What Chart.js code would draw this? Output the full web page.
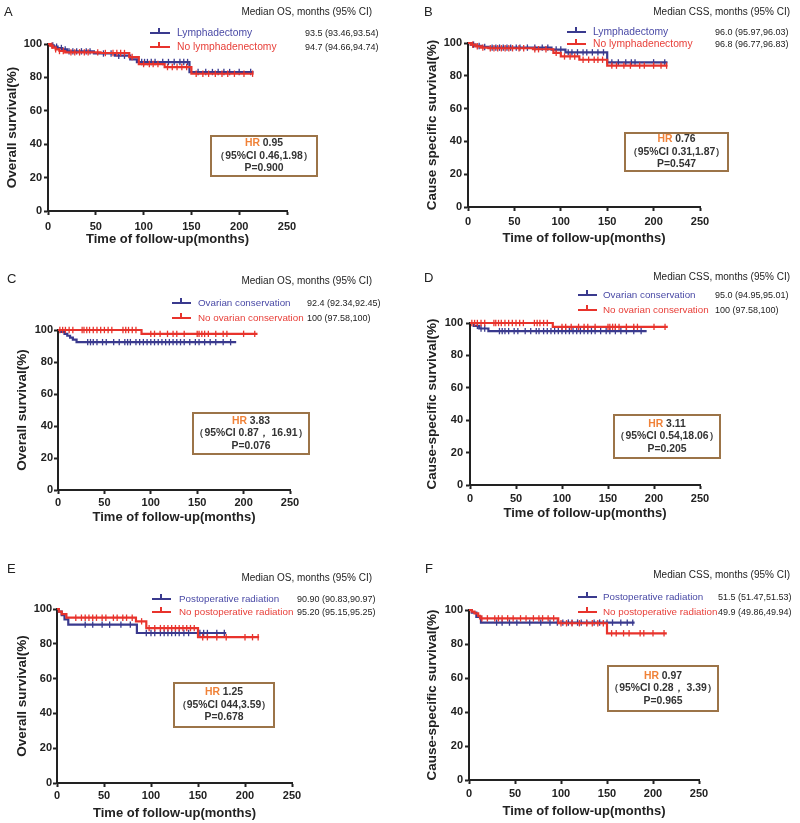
<!DOCTYPE html>
<html><head><meta charset="utf-8">
<script src="https://cdn.jsdelivr.net/npm/chart.js@4.4.1/dist/chart.umd.min.js"></script>
<style>
html,body{margin:0;padding:0;background:#fff;width:800px;height:823px;overflow:hidden;}
body{position:relative;font-family:'Liberation Sans',Arial,sans-serif;color:#222;}
canvas{position:absolute;}
.t{position:absolute;white-space:nowrap;line-height:1;}
.mk{position:absolute;height:2px;}
.mk i{position:absolute;left:8px;top:-4px;width:2px;height:5px;}
.box{position:absolute;border:2px solid #9c7448;box-sizing:border-box;display:flex;flex-direction:column;justify-content:center;align-items:center;font-weight:bold;font-size:10.4px;line-height:12.5px;color:#333;white-space:nowrap;}
.box .hr{color:#f08238;}
</style>
</head><body>
<script>
const BLUE = '#3a3a8e', RED = '#e8332c';
const BLUE_TXT = '#4a4aa6', RED_TXT = '#e8403a';
const xTicks = [0, 50, 100, 150, 200, 250];
const yTicks = [0, 20, 40, 60, 80, 100];

// Panel A – OS, lymphadenectomy
const aBlueTime = [0, 3, 6, 10, 15, 20, 48, 70, 86, 93, 148, 215];
const aBlueSurv = [100, 99.2, 98.4, 97.6, 96.8, 95.6, 94.3, 93.0, 90.8, 89.2, 83.2, 83.2];
const aBlueCens = [5, 9, 14, 18, 22, 26, 30, 35, 40, 44, 58, 66, 74, 80, 98, 101, 104, 108, 112, 120, 126, 132, 138, 142, 146, 157, 165, 172, 178, 184, 190, 200, 212];
const aRedTime = [0, 2, 5, 8, 12, 18, 55, 85, 95, 122, 150, 215];
const aRedSurv = [100, 99, 97.8, 96.8, 95.8, 95.0, 94.6, 92.2, 88.0, 86.2, 82.2, 82.2];
const aRedCens = [4, 8, 12, 16, 24, 28, 33, 38, 42, 52, 60, 68, 72, 76, 80, 88, 100, 106, 110, 115, 125, 130, 135, 140, 145, 155, 162, 168, 175, 182, 188, 195, 205, 214];

// Panel B – CSS, lymphadenectomy
const bBlueTime = [0, 3, 8, 15, 22, 90, 105, 150, 215];
const bBlueSurv = [100, 99, 98.2, 97.6, 97.2, 96.0, 94.3, 88.2, 88.2];
const bBlueCens = [6, 12, 18, 26, 30, 34, 38, 42, 46, 52, 56, 64, 72, 80, 86, 95, 100, 108, 112, 118, 124, 128, 134, 140, 146, 155, 162, 170, 176, 180, 200, 212];
const bRedTime = [0, 3, 8, 14, 22, 70, 92, 100, 120, 150, 215];
const bRedSurv = [100, 99, 98, 97.2, 96.8, 96.2, 94.0, 91.8, 89.8, 86.2, 86.2];
const bRedCens = [5, 10, 16, 24, 28, 32, 36, 40, 44, 48, 55, 60, 72, 76, 84, 95, 104, 110, 115, 124, 130, 136, 140, 145, 155, 160, 168, 175, 185, 190, 200, 208, 214];

// Panel C – OS, ovarian conservation
const cBlueTime = [0, 3, 7, 10, 13, 16, 20, 192];
const cBlueSurv = [100, 98.8, 97.6, 96.4, 95.2, 94.0, 92.4, 92.4];
const cBlueCens = [32, 35, 38, 42, 48, 52, 60, 66, 72, 75, 78, 84, 88, 92, 96, 100, 104, 108, 112, 116, 120, 124, 128, 132, 136, 142, 148, 152, 158, 164, 170, 178, 186];
const cRedTime = [0, 90, 215];
const cRedSurv = [100, 97.6, 97.6];
const cRedCens = [2, 5, 8, 12, 16, 26, 28, 31, 34, 38, 42, 46, 50, 54, 58, 70, 73, 76, 80, 84, 100, 104, 110, 118, 124, 128, 136, 150, 152, 155, 158, 162, 170, 178, 182, 200, 212];

// Panel D – CSS, ovarian conservation
const dBlueTime = [0, 4, 10, 20, 192];
const dBlueSurv = [100, 98.2, 96.6, 95.0, 95.0];
const dBlueCens = [8, 12, 16, 32, 35, 38, 42, 48, 52, 60, 66, 72, 75, 80, 84, 88, 92, 96, 100, 104, 108, 112, 116, 120, 124, 128, 132, 136, 142, 148, 152, 158, 164, 170, 178, 186];
const dRedTime = [0, 90, 215];
const dRedSurv = [100, 97.6, 97.6];
const dRedCens = [2, 5, 8, 12, 16, 26, 28, 31, 34, 38, 42, 46, 50, 54, 58, 70, 73, 76, 80, 84, 100, 104, 110, 118, 124, 128, 136, 150, 152, 155, 158, 162, 170, 178, 182, 200, 212];

// Panel E – OS, postoperative radiation
const eBlueTime = [0, 2, 5, 8, 12, 85, 180];
const eBlueSurv = [100, 98.5, 96.5, 94.0, 91.0, 86.2, 86.2];
const eBlueCens = [30, 38, 48, 56, 68, 78, 95, 100, 104, 110, 114, 118, 122, 126, 130, 135, 140, 152, 156, 160, 170, 178];
const eRedTime = [0, 2, 5, 10, 84, 95, 150, 215];
const eRedSurv = [100, 98.5, 97.0, 95.0, 92.9, 89.0, 83.8, 83.8];
const eRedCens = [20, 26, 30, 34, 38, 42, 48, 52, 60, 64, 70, 74, 80, 90, 98, 104, 110, 114, 118, 122, 126, 130, 134, 138, 142, 146, 155, 160, 170, 180, 200, 208, 214];

// Panel F – CSS, postoperative radiation
const fBlueTime = [0, 3, 8, 13, 180];
const fBlueSurv = [100, 98.5, 96.0, 92.6, 92.6];
const fBlueCens = [30, 36, 44, 52, 66, 78, 88, 96, 102, 108, 112, 118, 122, 128, 136, 142, 150, 156, 165, 172, 178];
const fRedTime = [0, 3, 6, 10, 12, 97, 150, 215];
const fRedSurv = [100, 99, 98, 96.5, 95.1, 92.2, 86.3, 86.3];
const fRedCens = [14, 20, 28, 32, 36, 42, 48, 56, 62, 70, 76, 80, 86, 92, 100, 106, 112, 120, 128, 134, 140, 146, 155, 160, 168, 174, 186, 190, 200, 212];

Chart.defaults.font.family = "'Liberation Sans', Arial, sans-serif";

function km(ts, ss) { return ts.map((t, i) => ({x: t, y: ss[i]})); }
function cens(cs, ts, ss) {
  return cs.map(c => { let v = ss[0]; for (let i = 0; i < ts.length; i++) if (ts[i] <= c) v = ss[i]; return {x: c, y: v}; });
}

function addText(txt, x, y, size, opts = {}) {
  const d = document.createElement('div');
  d.className = 't';
  d.textContent = txt;
  d.style.fontSize = size + 'px';
  d.style.top = (y - size / 2) + 'px';
  if (opts.right !== undefined) d.style.right = (800 - opts.right) + 'px'; else d.style.left = x + 'px';
  if (opts.color) d.style.color = opts.color;
  if (opts.bold) d.style.fontWeight = 'bold';
  document.body.appendChild(d);
}
function addMarker(x, y, w, color) {
  const m = document.createElement('div');
  m.className = 'mk';
  m.style.left = x + 'px'; m.style.top = (y - 1) + 'px'; m.style.width = w + 'px'; m.style.background = color;
  const i = document.createElement('i'); i.style.background = color; m.appendChild(i);
  document.body.appendChild(m);
}
function addBox(b, hr, ci, p) {
  const d = document.createElement('div');
  d.className = 'box';
  d.style.left = b[0] + 'px'; d.style.top = b[1] + 'px';
  d.style.width = (b[2] - b[0]) + 'px'; d.style.height = (b[3] - b[1]) + 'px';
  const l1 = document.createElement('div');
  const s = document.createElement('span'); s.className = 'hr'; s.textContent = 'HR';
  l1.appendChild(s); l1.appendChild(document.createTextNode(' ' + hr));
  const l2 = document.createElement('div'); l2.textContent = ci;
  const l3 = document.createElement('div'); l3.textContent = p;
  d.appendChild(l1); d.appendChild(l2); d.appendChild(l3);
  document.body.appendChild(d);
}

function panel(p) {
  const h = p.xTitleY - p.cy + 11;
  const cv = document.createElement('canvas');
  cv.width = 400; cv.height = h;
  cv.style.left = p.cx + 'px'; cv.style.top = p.cy + 'px';
  cv.style.width = '400px'; cv.style.height = h + 'px';
  document.body.appendChild(cv);
  const l = p.L - p.cx, r = p.R - p.cx, t = p.T - p.cy, b = p.B - p.cy;
  const tickLen = 4;
  const axisCol = '#222';
  new Chart(cv, {
    type: 'line',
    data: {datasets: [
      {data: cens(p.redC, p.redT, p.redS), showLine: false, pointStyle: 'line', rotation: 90, pointRadius: 3.2, pointBorderWidth: 1.3, pointBorderColor: RED, borderColor: RED, clip: false},
      {data: km(p.redT, p.redS), stepped: true, borderColor: RED, borderWidth: 2.2, pointRadius: 0, fill: false, clip: false},
      {data: cens(p.blueC, p.blueT, p.blueS), showLine: false, pointStyle: 'line', rotation: 90, pointRadius: 3.2, pointBorderWidth: 1.3, pointBorderColor: BLUE, borderColor: BLUE, clip: false},
      {data: km(p.blueT, p.blueS), stepped: true, borderColor: BLUE, borderWidth: 2.2, pointRadius: 0, fill: false, clip: false}
    ]},
    options: {
      responsive: false, animation: false, devicePixelRatio: 1,
      layout: {padding: {left: 0, top: t, right: 400 - r, bottom: 0}},
      plugins: {legend: {display: false}, tooltip: {enabled: false}},
      scales: {
        x: {
          type: 'linear', min: 0, max: 250,
          afterBuildTicks: s => { s.ticks = xTicks.map(v => ({value: v})); },
          ticks: {padding: Math.max(0, p.xTickY - p.B - tickLen - 6), font: {size: 11, weight: 'bold'}, color: axisCol, maxRotation: 0, autoSkip: false},
          grid: {drawOnChartArea: false, tickLength: tickLen, tickWidth: 2, tickColor: axisCol},
          border: {color: axisCol, width: 2},
          title: {display: true, text: 'Time of follow-up(months)', font: {size: 13, weight: 'bold'}, color: axisCol, padding: {top: 0, bottom: 2.6}},
          afterFit: s => { s.height = h - b; }
        },
        y: {
          type: 'linear', min: 0, max: 100,
          afterBuildTicks: s => { s.ticks = yTicks.map(v => ({value: v})); },
          ticks: {padding: Math.max(0, p.L - tickLen - p.yTickRight), font: {size: 11, weight: 'bold'}, color: axisCol},
          grid: {drawOnChartArea: false, tickLength: tickLen, tickWidth: 2, tickColor: axisCol},
          border: {color: axisCol, width: 2},
          title: {display: true, text: p.yTitle, font: {size: 13.5, weight: 'bold'}, color: axisCol, padding: {top: (p.yTitleX - p.cx) - 8.1, bottom: 0}},
          afterFit: s => { s.width = l; }
        }
      }
    }
  });
  // annotations
  addText(p.letter, p.letterX, p.letterY, 13);
  addText(p.header, 0, p.headerY, 10, {right: p.headerRight});
  addMarker(p.mkX, p.rowY[0], p.mkW, BLUE);
  addMarker(p.mkX, p.rowY[1], p.mkW, RED);
  addText(p.labels[0], p.txtX, p.rowY[0], p.lblSize, {color: BLUE_TXT});
  addText(p.labels[1], p.txtX, p.rowY[1], p.lblSize, {color: RED_TXT});
  addText(p.values[0], p.valX, p.rowY[0], 9);
  addText(p.values[1], p.valX, p.rowY[1], 9);
  addBox(p.box, p.hr, p.ci, p.p);
}

panel({cx: 0, cy: 0, L: 48, R: 287, T: 44, B: 211, yTitleX: 12, xTitleY: 239, xTickY: 226, yTickRight: 42,
  yTitle: 'Overall survival(%)', letter: 'A', letterX: 4, letterY: 11, header: 'Median OS, months (95% CI)', headerRight: 372, headerY: 12,
  mkX: 150, mkW: 20, txtX: 177, valX: 305, lblSize: 10.3, rowY: [33, 47], labels: ['Lymphadectomy', 'No lymphadenectomy'], values: ['93.5 (93.46,93.54)', '94.7 (94.66,94.74)'],
  box: [210, 135, 318, 177], hr: '0.95', ci: '（95%CI 0.46,1.98）', p: 'P=0.900',
  blueT: aBlueTime, blueS: aBlueSurv, blueC: aBlueCens, redT: aRedTime, redS: aRedSurv, redC: aRedCens});

panel({cx: 400, cy: 0, L: 468, R: 700, T: 43, B: 207, yTitleX: 432, xTitleY: 238, xTickY: 221, yTickRight: 462,
  yTitle: 'Cause specific survival(%)', letter: 'B', letterX: 424, letterY: 11, header: 'Median CSS, months (95% CI)', headerRight: 790, headerY: 12,
  mkX: 567, mkW: 19, txtX: 593, valX: 715, lblSize: 10.3, rowY: [32, 44], labels: ['Lymphadectomy', 'No lymphadenectomy'], values: ['96.0 (95.97,96.03)', '96.8 (96.77,96.83)'],
  box: [624, 132, 729, 172], hr: '0.76', ci: '（95%CI 0.31,1.87）', p: 'P=0.547',
  blueT: bBlueTime, blueS: bBlueSurv, blueC: bBlueCens, redT: bRedTime, redS: bRedSurv, redC: bRedCens});

panel({cx: 0, cy: 260, L: 58, R: 290, T: 330, B: 490, yTitleX: 22, xTitleY: 517, xTickY: 502, yTickRight: 53,
  yTitle: 'Overall survival(%)', letter: 'C', letterX: 7, letterY: 278, header: 'Median OS, months (95% CI)', headerRight: 372, headerY: 281,
  mkX: 172, mkW: 19, txtX: 198, valX: 307, lblSize: 9.8, rowY: [303, 318], labels: ['Ovarian conservation', 'No ovarian conservation'], values: ['92.4 (92.34,92.45)', '100 (97.58,100)'],
  box: [192, 412, 310, 455], hr: '3.83', ci: '（95%CI 0.87， 16.91）', p: 'P=0.076',
  blueT: cBlueTime, blueS: cBlueSurv, blueC: cBlueCens, redT: cRedTime, redS: cRedSurv, redC: cRedCens});

panel({cx: 400, cy: 260, L: 470, R: 700, T: 323, B: 485, yTitleX: 432, xTitleY: 513, xTickY: 498, yTickRight: 463,
  yTitle: 'Cause-specific survival(%)', letter: 'D', letterX: 424, letterY: 277, header: 'Median CSS, months (95% CI)', headerRight: 790, headerY: 277,
  mkX: 578, mkW: 19, txtX: 603, valX: 715, lblSize: 9.8, rowY: [295, 310], labels: ['Ovarian conservation', 'No ovarian conservation'], values: ['95.0 (94.95,95.01)', '100 (97.58,100)'],
  box: [613, 414, 721, 459], hr: '3.11', ci: '（95%CI 0.54,18.06）', p: 'P=0.205',
  blueT: dBlueTime, blueS: dBlueSurv, blueC: dBlueCens, redT: dRedTime, redS: dRedSurv, redC: dRedCens});

panel({cx: 0, cy: 540, L: 57, R: 292, T: 609, B: 783, yTitleX: 22, xTitleY: 813, xTickY: 795, yTickRight: 52,
  yTitle: 'Overall survival(%)', letter: 'E', letterX: 7, letterY: 568, header: 'Median OS, months (95% CI)', headerRight: 372, headerY: 578,
  mkX: 152, mkW: 19, txtX: 179, valX: 297, lblSize: 9.8, rowY: [599, 612], labels: ['Postoperative radiation', 'No postoperative radiation'], values: ['90.90 (90.83,90.97)', '95.20 (95.15,95.25)'],
  box: [173, 682, 275, 728], hr: '1.25', ci: '（95%CI 044,3.59）', p: 'P=0.678',
  blueT: eBlueTime, blueS: eBlueSurv, blueC: eBlueCens, redT: eRedTime, redS: eRedSurv, redC: eRedCens});

panel({cx: 400, cy: 540, L: 469, R: 699, T: 610, B: 780, yTitleX: 432, xTitleY: 811, xTickY: 793, yTickRight: 463,
  yTitle: 'Cause-specific survival(%)', letter: 'F', letterX: 425, letterY: 568, header: 'Median CSS, months (95% CI)', headerRight: 790, headerY: 575,
  mkX: 578, mkW: 19, txtX: 603, valX: 718, lblSize: 9.8, rowY: [597, 612], labels: ['Postoperative radiation', 'No postoperative radiation'], values: ['51.5 (51.47,51.53)', '49.9 (49.86,49.94)'],
  box: [607, 665, 719, 712], hr: '0.97', ci: '（95%CI 0.28， 3.39）', p: 'P=0.965',
  blueT: fBlueTime, blueS: fBlueSurv, blueC: fBlueCens, redT: fRedTime, redS: fRedSurv, redC: fRedCens});
</script>
</body></html>
